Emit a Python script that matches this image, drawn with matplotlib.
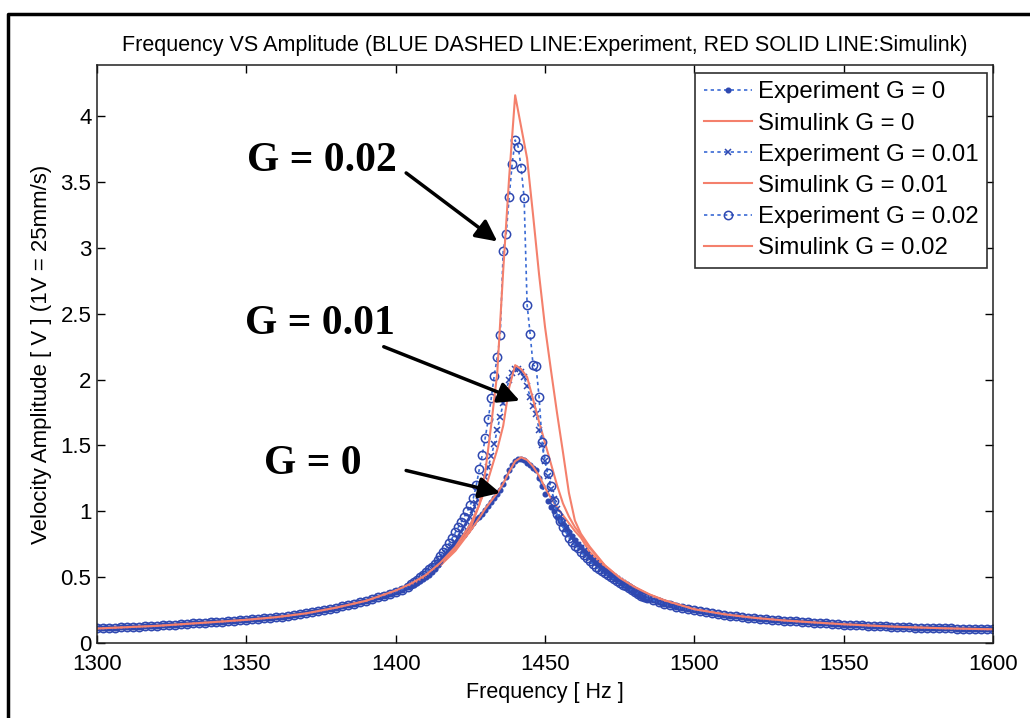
"""Frequency vs amplitude: experiment vs Simulink for three gains."""

import matplotlib

matplotlib.use("Agg")
import matplotlib.pyplot as plt
from matplotlib.lines import Line2D

plt.rcParams["font.family"] = ["Liberation Sans", "DejaVu Sans"]

# ---- experiment sweep (shared tails, per-gain centre part) ----
exp_freq_low = [1300, 1302, 1304, 1306, 1308, 1310, 1312, 1314, 1316, 1318,
                1320, 1322, 1324, 1326, 1328, 1330, 1332, 1334, 1336, 1338,
                1340, 1342, 1344, 1346, 1348, 1350, 1352, 1354, 1356, 1358,
                1360, 1362, 1364, 1366, 1368, 1370, 1372, 1374, 1376, 1378,
                1380, 1382, 1384, 1386, 1388, 1390, 1392, 1394, 1396, 1398,
                1400, 1402, 1404]
exp_tail_low = [0.110, 0.112, 0.114, 0.116, 0.118, 0.120, 0.122, 0.124, 0.126, 0.128,
                0.130, 0.133, 0.136, 0.139, 0.142, 0.145, 0.148, 0.151, 0.154, 0.157,
                0.160, 0.163, 0.166, 0.169, 0.172, 0.176, 0.180, 0.184, 0.188, 0.192,
                0.196, 0.201, 0.206, 0.212, 0.218, 0.225, 0.233, 0.241, 0.250, 0.259,
                0.268, 0.278, 0.288, 0.298, 0.309, 0.320, 0.333, 0.346, 0.360, 0.375,
                0.390, 0.406, 0.423]

exp_freq_mid = [1405, 1406, 1407, 1408, 1409, 1410, 1411, 1412, 1413, 1414,
                1415, 1416, 1417, 1418, 1419, 1420, 1421, 1422, 1423, 1424,
                1425, 1426, 1427, 1428, 1429, 1430, 1431, 1432, 1433, 1434,
                1435, 1436, 1437, 1438, 1439, 1440, 1441, 1442, 1443, 1444,
                1445, 1446, 1447, 1448, 1449, 1450, 1451, 1452, 1453, 1454,
                1455, 1456, 1457, 1458, 1459, 1460, 1461, 1462, 1463, 1464,
                1465, 1466, 1467, 1468, 1469, 1470, 1471, 1472, 1473, 1474,
                1475, 1476, 1477, 1478, 1479, 1480, 1481, 1482, 1483, 1484]
exp_g0_mid = [0.430, 0.440, 0.455, 0.470, 0.485, 0.500, 0.520, 0.540, 0.565, 0.590,
              0.615, 0.645, 0.670, 0.700, 0.720, 0.745, 0.770, 0.795, 0.820, 0.850,
              0.880, 0.910, 0.940, 0.960, 0.980, 1.010, 1.040, 1.070, 1.100, 1.130,
              1.160, 1.210, 1.260, 1.310, 1.350, 1.380, 1.400, 1.400, 1.390, 1.370,
              1.350, 1.330, 1.310, 1.250, 1.190, 1.130, 1.080, 1.030, 1.000, 0.960,
              0.930, 0.900, 0.870, 0.840, 0.810, 0.780, 0.755, 0.730, 0.700, 0.680,
              0.655, 0.630, 0.610, 0.590, 0.570, 0.550, 0.530, 0.510, 0.495, 0.480,
              0.465, 0.450, 0.435, 0.420, 0.405, 0.390, 0.375, 0.360, 0.345, 0.335]
exp_g1_mid = [0.440, 0.455, 0.470, 0.485, 0.500, 0.520, 0.540, 0.560, 0.580, 0.600,
              0.630, 0.655, 0.680, 0.710, 0.740, 0.770, 0.800, 0.840, 0.880, 0.920,
              0.960, 1.010, 1.060, 1.120, 1.190, 1.260, 1.340, 1.420, 1.510, 1.620,
              1.720, 1.820, 1.920, 2.000, 2.050, 2.080, 2.080, 2.060, 2.020, 1.950,
              1.870, 1.800, 1.740, 1.620, 1.500, 1.380, 1.270, 1.170, 1.090, 1.020,
              0.960, 0.910, 0.870, 0.830, 0.800, 0.770, 0.745, 0.720, 0.695, 0.670,
              0.645, 0.625, 0.605, 0.585, 0.565, 0.545, 0.530, 0.515, 0.500, 0.485,
              0.470, 0.455, 0.440, 0.425, 0.410, 0.395, 0.380, 0.365, 0.350, 0.338]
exp_g2_mid = [0.450, 0.465, 0.480, 0.500, 0.520, 0.540, 0.560, 0.580, 0.600, 0.630,
              0.660, 0.690, 0.720, 0.760, 0.800, 0.840, 0.880, 0.920, 0.960, 1.000,
              1.050, 1.100, 1.200, 1.320, 1.430, 1.560, 1.700, 1.860, 2.030, 2.170,
              2.340, 2.980, 3.110, 3.390, 3.640, 3.820, 3.770, 3.610, 3.380, 2.570,
              2.350, 2.110, 2.100, 1.870, 1.530, 1.400, 1.290, 1.190, 1.080, 0.980,
              0.930, 0.880, 0.840, 0.800, 0.770, 0.740, 0.720, 0.690, 0.670, 0.645,
              0.620, 0.600, 0.580, 0.560, 0.545, 0.530, 0.515, 0.500, 0.485, 0.470,
              0.455, 0.440, 0.430, 0.415, 0.400, 0.390, 0.375, 0.360, 0.350, 0.340]

exp_freq_high = [1486, 1488, 1490, 1492, 1494, 1496, 1498, 1500, 1502, 1504,
                 1506, 1508, 1510, 1512, 1514, 1516, 1518, 1520, 1522, 1524,
                 1526, 1528, 1530, 1532, 1534, 1536, 1538, 1540, 1542, 1544,
                 1546, 1548, 1550, 1552, 1554, 1556, 1558, 1560, 1562, 1564,
                 1566, 1568, 1570, 1572, 1574, 1576, 1578, 1580, 1582, 1584,
                 1586, 1588, 1590, 1592, 1594, 1596, 1598, 1600]
exp_tail_high = [0.325, 0.310, 0.298, 0.286, 0.275, 0.265, 0.256, 0.248, 0.240, 0.233,
                 0.226, 0.220, 0.214, 0.208, 0.203, 0.198, 0.193, 0.189, 0.185, 0.181,
                 0.177, 0.173, 0.170, 0.167, 0.164, 0.161, 0.158, 0.155, 0.152, 0.149,
                 0.146, 0.143, 0.140, 0.138, 0.136, 0.134, 0.132, 0.130, 0.128, 0.126,
                 0.124, 0.122, 0.120, 0.118, 0.116, 0.115, 0.114, 0.113, 0.112, 0.111,
                 0.110, 0.109, 0.108, 0.107, 0.106, 0.105, 0.104, 0.103]

# ---- Simulink curves ----
sim_freq = [1300, 1310, 1320, 1330, 1340, 1350, 1360, 1370, 1380, 1390,
            1400, 1405, 1410, 1415, 1420, 1425,
            1428, 1430, 1432, 1434, 1436, 1438, 1440, 1442, 1444, 1446,
            1448, 1450, 1452, 1454, 1456, 1458, 1460, 1462,
            1465, 1470, 1475, 1480, 1485, 1490,
            1500, 1510, 1520, 1530, 1540, 1550, 1560, 1570, 1580, 1590, 1600]
sim_g0 = [0.110, 0.120, 0.130, 0.145, 0.160, 0.176, 0.196, 0.225, 0.268, 0.320,
          0.392, 0.440, 0.500, 0.590, 0.700, 0.850,
          0.950, 1.020, 1.080, 1.140, 1.210, 1.300, 1.380, 1.410, 1.390, 1.340,
          1.270, 1.180, 1.100, 1.030, 0.970, 0.910, 0.850, 0.800,
          0.690, 0.580, 0.490, 0.420, 0.365, 0.322,
          0.256, 0.218, 0.191, 0.171, 0.156, 0.142, 0.131, 0.121, 0.114, 0.108, 0.104]
sim_g1 = [0.110, 0.120, 0.130, 0.145, 0.160, 0.176, 0.196, 0.225, 0.268, 0.320,
          0.395, 0.445, 0.505, 0.600, 0.710, 0.870,
          1.050, 1.170, 1.320, 1.470, 1.650, 1.940, 2.110, 2.080, 2.020, 1.850,
          1.680, 1.520, 1.360, 1.200, 1.060, 0.960, 0.880, 0.820,
          0.720, 0.590, 0.495, 0.425, 0.368, 0.324,
          0.256, 0.218, 0.191, 0.171, 0.156, 0.142, 0.131, 0.121, 0.114, 0.108, 0.104]
sim_g2 = [0.110, 0.120, 0.130, 0.145, 0.160, 0.176, 0.196, 0.225, 0.268, 0.320,
          0.398, 0.450, 0.515, 0.610, 0.730, 0.900,
          1.050, 1.300, 1.660, 2.050, 2.830, 3.540, 4.160, 3.920, 3.680, 3.250,
          2.800, 2.400, 2.070, 1.750, 1.450, 1.140, 0.930, 0.830,
          0.730, 0.590, 0.495, 0.425, 0.368, 0.324,
          0.256, 0.218, 0.191, 0.171, 0.156, 0.142, 0.131, 0.121, 0.114, 0.108, 0.104]

gains = ["0", "0.01", "0.02"]
exp_markers = [".", "x", "o"]
exp_mids = [exp_g0_mid, exp_g1_mid, exp_g2_mid]
sims = [sim_g0, sim_g1, sim_g2]

# annotation labels: text, text position, arrow start, arrow tip (data units)
notes = [
    ("G = 0.02", (1375.3, 3.66), (1403.5, 3.57), (1434.0, 3.05)),
    ("G = 0.01", (1374.7, 2.42), (1396.0, 2.25), (1441.5, 1.84)),
    ("G = 0", (1372.3, 1.36), (1403.5, 1.31), (1435.0, 1.14)),
]

BLUE_LINE = "#3a6ad4"
BLUE_MARK = "#2f48b0"
RED = "#f4806c"

fig = plt.figure(figsize=(10.30, 7.18), dpi=100)
ax = fig.add_axes([0.0942, 0.1045, 0.8699, 0.805])

for g, mk, mid, sim in zip(gains, exp_markers, exp_mids, sims):
    x = exp_freq_low + exp_freq_mid + exp_freq_high
    y = exp_tail_low + mid + exp_tail_high
    ms = 6.5 if mk == "." else (5 if mk == "x" else 6)
    ax.plot(x, y, linestyle=(0, (2, 2)), color=BLUE_LINE, lw=1.2,
            marker=mk, markersize=ms, markerfacecolor="none" if mk == "o" else BLUE_MARK,
            markeredgecolor=BLUE_MARK, markeredgewidth=1.1,
            label=f"Experiment G = {g}")
    ax.plot(sim_freq, sim, color=RED, lw=1.5, label=f"Simulink G = {g}")

for text, tpos, start, tip in notes:
    ax.annotate("", xy=tip, xytext=start,
                arrowprops=dict(arrowstyle="-|>", color="black", lw=2.5,
                                mutation_scale=32, shrinkA=0, shrinkB=0))
    ax.text(tpos[0], tpos[1], text, ha="center", va="center", fontsize=30,
            fontweight="bold", family=["Liberation Serif", "DejaVu Serif"])

ax.set_xlim(1300, 1600)
ax.set_ylim(0, 4.39)
ax.set_xticks([1300, 1350, 1400, 1450, 1500, 1550, 1600])
ax.set_yticks([0, 0.5, 1, 1.5, 2, 2.5, 3, 3.5, 4])
ax.set_yticklabels(["0", "0.5", "1", "1.5", "2", "2.5", "3", "3.5", "4"])
ax.tick_params(direction="in", top=True, right=True, length=6, width=1,
               labelsize=16)
ax.tick_params(axis="x", pad=8)
ax.tick_params(axis="y", pad=4)
for sp in ax.spines.values():
    sp.set_linewidth(1.1)
    sp.set_color("#202020")

ax.set_title("Frequency VS Amplitude (BLUE DASHED LINE:Experiment, RED SOLID LINE:Simulink)",
             fontsize=15.5, pad=10)
ax.set_xlabel("Frequency [ Hz ]", fontsize=15.5, labelpad=5)
ax.set_ylabel("Velocity Amplitude [ V ] (1V = 25mm/s)", fontsize=16, labelpad=6)

leg = ax.legend(loc="upper right", bbox_to_anchor=(0.993, 0.986), borderaxespad=0,
                fontsize=17.3, handlelength=2.0, labelspacing=0.38, fancybox=False,
                framealpha=1, edgecolor="#303030", handletextpad=0.25, borderpad=0.35)
leg.get_frame().set_linewidth(1.2)

# outer frame of the scanned figure (left and top edges visible)
fig.add_artist(Line2D([8 / 1030, 8 / 1030, 1.01], [-0.01, 1 - 14 / 718, 1 - 14 / 718],
                      transform=fig.transFigure, color="black", lw=2.5))

fig.savefig("out.png", dpi=100)
